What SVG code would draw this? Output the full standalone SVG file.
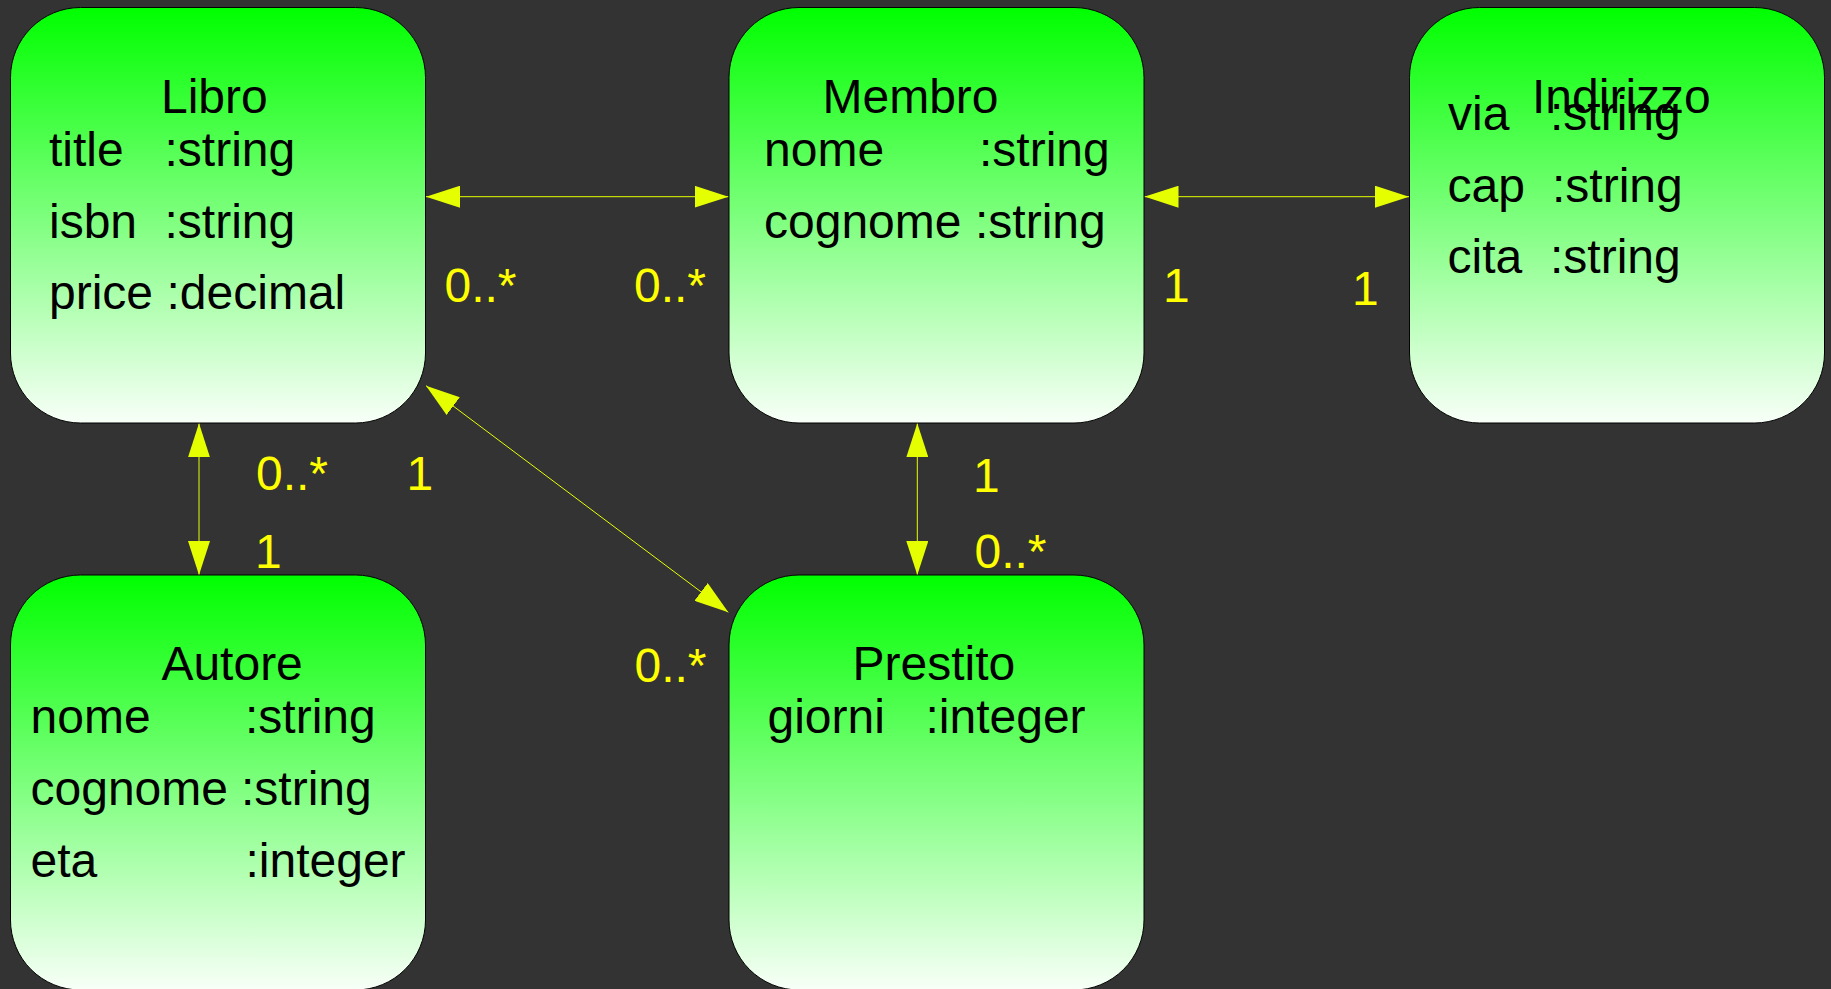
<svg xmlns="http://www.w3.org/2000/svg" width="1831" height="989" viewBox="0 0 1831 989">
<style>
text{font-family:"Liberation Sans",Arial,Helvetica,sans-serif;font-size:48px}
.box{fill:url(#g);stroke:#000;stroke-width:1}
.t{fill:#000}
.lbl{fill:#ffff00}
.edge{stroke:#e6ff00;stroke-width:1;fill:none;marker-start:url(#arr);marker-end:url(#arr)}
</style>
<defs>
<linearGradient id="g" x1="0" y1="0" x2="0" y2="1">
<stop offset="0" stop-color="#00ff00"/>
<stop offset="1" stop-color="#f8fff8"/>
</linearGradient>
<marker id="arr" viewBox="0 0 34 22" markerWidth="34" markerHeight="22" refX="34" refY="11" orient="auto-start-reverse" markerUnits="userSpaceOnUse">
<path d="M0,0 L34,11 L0,22 Z" fill="#e6ff00"/>
</marker>
</defs>
<rect width="1831" height="989" fill="#333333"/>
<g id="connectors">
<line class="edge" x1="426" y1="196.7" x2="728.5" y2="196.7"/>
<line class="edge" x1="1144.5" y1="196.7" x2="1409" y2="196.7"/>
<line class="edge" x1="199" y1="423.3" x2="199" y2="575"/>
<line class="edge" x1="917.3" y1="423.3" x2="917.3" y2="575"/>
<line class="edge" x1="426" y1="385.7" x2="728.3" y2="612.3"/>
</g>
<g id="labels">
<text class="lbl" x="444.5" y="302.3">0..*</text>
<text class="lbl" x="634" y="302.3">0..*</text>
<text class="lbl" x="1163" y="301.7">1</text>
<text class="lbl" x="1352" y="305">1</text>
<text class="lbl" x="256" y="490">0..*</text>
<text class="lbl" x="406.5" y="490">1</text>
<text class="lbl" x="255" y="568">1</text>
<text class="lbl" x="634.5" y="681.6">0..*</text>
<text class="lbl" x="973" y="492">1</text>
<text class="lbl" x="974.5" y="568">0..*</text>
</g>
<g id="Libro">
<rect class="box" x="10.5" y="7.5" width="415" height="415.5" rx="70" ry="70"/>
<text class="t" x="161" y="112.7">Libro</text>
<text class="t" x="49" y="165.7">title</text><text class="t" x="164.5" y="165.7">:string</text>
<text class="t" x="49" y="237.7">isbn</text><text class="t" x="164.5" y="237.7">:string</text>
<text class="t" x="49" y="309">price</text><text class="t" x="166.5" y="309">:decimal</text>
</g>
<g id="Membro">
<rect class="box" x="729" y="7.5" width="415" height="415.5" rx="70" ry="70"/>
<text class="t" x="822.5" y="112.7">Membro</text>
<text class="t" x="764" y="165.7">nome</text><text class="t" x="979" y="165.7">:string</text>
<text class="t" x="764" y="237.7">cognome</text><text class="t" x="975" y="237.7">:string</text>
</g>
<g id="Indirizzo">
<rect class="box" x="1409.5" y="7.5" width="415" height="415.5" rx="70" ry="70"/>
<text class="t" x="1532" y="112.7">Indirizzo</text>
<text class="t" x="1448" y="130">via</text><text class="t" x="1550" y="130">:string</text>
<text class="t" x="1447.5" y="201.7">cap</text><text class="t" x="1552" y="201.7">:string</text>
<text class="t" x="1447.5" y="273.3">cita</text><text class="t" x="1550" y="273.3">:string</text>
</g>
<g id="Autore">
<rect class="box" x="10.5" y="575" width="415" height="415" rx="70" ry="70"/>
<text class="t" x="161.4" y="680">Autore</text>
<text class="t" x="30.5" y="733">nome</text><text class="t" x="245" y="733">:string</text>
<text class="t" x="30.5" y="805">cognome</text><text class="t" x="241" y="805">:string</text>
<text class="t" x="30.5" y="876.5">eta</text><text class="t" x="245.5" y="876.5">:integer</text>
</g>
<g id="Prestito">
<rect class="box" x="729" y="575" width="415" height="415" rx="70" ry="70"/>
<text class="t" x="852.5" y="680">Prestito</text>
<text class="t" x="767.5" y="733">giorni</text><text class="t" x="925.5" y="733">:integer</text>
</g>
</svg>
